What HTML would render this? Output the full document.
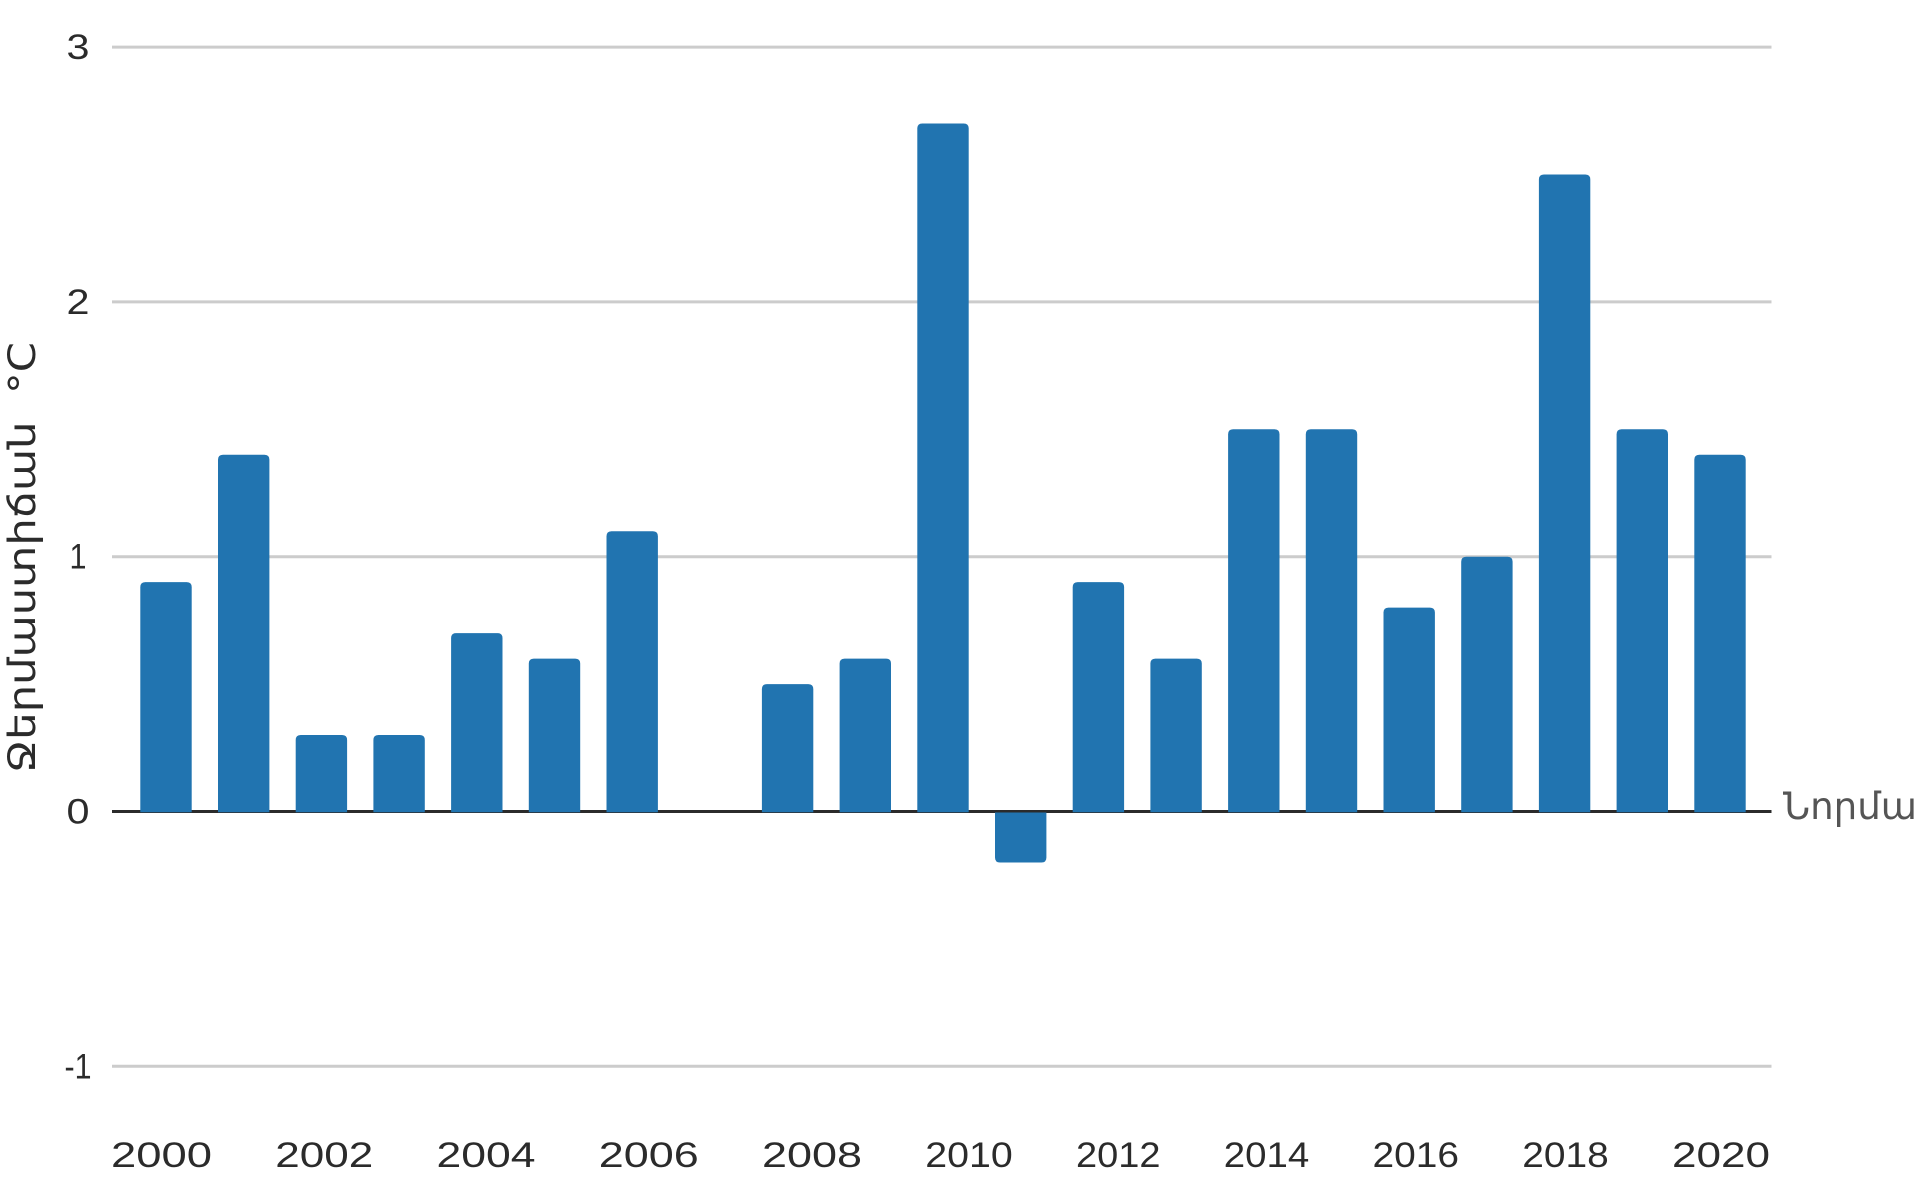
<!DOCTYPE html>
<html lang="hy">
<head>
<meta charset="utf-8">
<title>Ջերմաստիճան</title>
<style>
html,body{margin:0;padding:0;background:#fff;}
body{width:1920px;height:1200px;overflow:hidden;}
svg{display:block;}
text{fill:#2b2b2b;font-family:"Liberation Sans","DejaVu Sans",sans-serif;}
.arm{font-family:"DejaVu Sans","Liberation Sans",sans-serif;white-space:pre;}
</style>
</head>
<body>
<svg id="chart" xmlns="http://www.w3.org/2000/svg" width="1920" height="1200" viewBox="0 0 1920 1200">
  <g id="grid"></g>
  <g id="bars"></g>
  <g id="yticks"></g>
  <g id="xticks"></g>
  <text class="arm" transform="translate(35,773) rotate(-90)" font-size="37" textLength="431" lengthAdjust="spacingAndGlyphs">Ջերմաստիճան  °C</text>
  <text class="arm" x="1783" y="819" font-size="37" textLength="134" lengthAdjust="spacingAndGlyphs" style="fill:#555">Նորմա</text>
</svg>
<script>
const years = [2000,2001,2002,2003,2004,2005,2006,2007,2008,2009,2010,2011,2012,2013,2014,2015,2016,2017,2018,2019,2020];
const anomalies = [0.9,1.4,0.3,0.3,0.7,0.6,1.1,0,0.5,0.6,2.7,-0.2,0.9,0.6,1.5,1.5,0.8,1.0,2.5,1.5,1.4];
const yTickValues = [-1,0,1,2,3];
const xTickLabels = ["2000","2002","2004","2006","2008","2010","2012","2014","2016","2018","2020"];

const NS = "http://www.w3.org/2000/svg";
const plotLeft = 112, plotRight = 1771.5;
const firstBarLeft = 140.3, barStep = 77.7, barWidth = 51.4, barRadius = 5;

function yScale(v) { return 811.5 - 254.8 * v; }
function xScale(i) { return firstBarLeft + barStep * i; }

const gridGroup = document.getElementById("grid");
const barGroup = document.getElementById("bars");
const yTickGroup = document.getElementById("yticks");
const xTickGroup = document.getElementById("xticks");

yTickValues.forEach(function (t) {
  const line = document.createElementNS(NS, "line");
  
  
  line.setAttribute("x1", plotLeft);
  line.setAttribute("x2", plotRight);
  line.setAttribute("y1", yScale(t));
  line.setAttribute("y2", yScale(t));
  line.setAttribute("stroke", t === 0 ? "#2b2b2b" : "#cccccc");
  line.setAttribute("stroke-width", 3);
  gridGroup.appendChild(line);

  const label = document.createElementNS(NS, "text");
  
  
  label.setAttribute("x", 78);
  label.setAttribute("y", yScale(t) + 12);
  label.setAttribute("text-anchor", "middle");
  label.setAttribute("font-size", 35);
  label.setAttribute("textLength", t === 1 ? 17 : (t === -1 ? 27 : 23));
  label.setAttribute("lengthAdjust", "spacingAndGlyphs");
  label.textContent = String(t);
  yTickGroup.appendChild(label);
});

anomalies.forEach(function (v, i) {
  if (v === 0) return; /* a zero anomaly has no visible bar */
  const x = xScale(i);
  const base = v < 0 ? yScale(0) + 1 : yScale(0) + 0.8;
  const end = yScale(v);
  const h = Math.abs(end - base);
  const r = Math.min(barRadius, h);
  const dir = end < base ? 1 : -1;
  const d = "M" + x + " " + base +
    "V" + (end + dir * r) +
    "Q" + x + " " + end + " " + (x + r) + " " + end +
    "H" + (x + barWidth - r) +
    "Q" + (x + barWidth) + " " + end + " " + (x + barWidth) + " " + (end + dir * r) +
    "V" + base + "Z";
  const bar = document.createElementNS(NS, "path");
  
  
  bar.setAttribute("d", d);
  bar.setAttribute("fill", "#2174b0");
  barGroup.appendChild(bar);
});

/* The year labels are spread edge to edge with equal gaps, and narrow digits make narrower labels. */
const digitWidths = {"0":26,"1":12.5,"2":23,"4":24,"6":25,"8":25};
function labelWidth(s) {
  return s.split("").reduce(function (sum, c) { return sum + digitWidths[c]; }, 0);
}
const labelsStart = 111, labelsEnd = 1770;
const totalLabelWidth = xTickLabels.reduce(function (sum, s) { return sum + labelWidth(s); }, 0);
const labelGap = (labelsEnd - labelsStart - totalLabelWidth) / (xTickLabels.length - 1);
let cursor = labelsStart;
xTickLabels.forEach(function (s) {
  const w = labelWidth(s);
  const label = document.createElementNS(NS, "text");
  
  
  label.setAttribute("x", cursor);
  label.setAttribute("y", 1167);
  label.setAttribute("font-size", 35);
  label.setAttribute("textLength", w);
  label.setAttribute("lengthAdjust", "spacingAndGlyphs");
  label.textContent = s;
  xTickGroup.appendChild(label);
  cursor += w + labelGap;
});
</script>
</body>
</html>
